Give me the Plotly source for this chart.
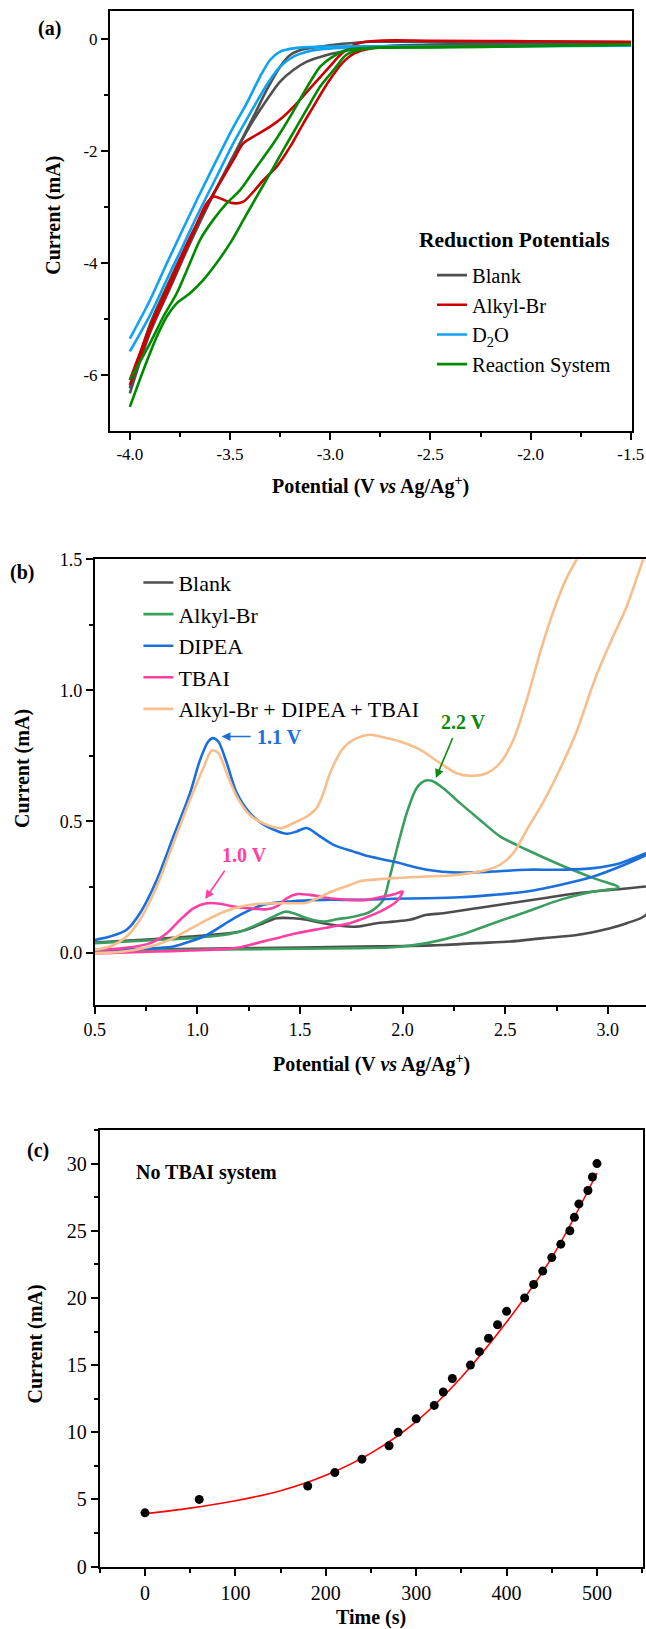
import plotly.graph_objects as go

W, H = 646, 1629
FONT = "Liberation Serif"

# ---------------- Panel (a) data: reduction CVs ----------------
a_blank_fwd_x = [-1.5, -2.0, -2.5, -2.8, -2.87, -2.95, -3.05, -3.134, -3.2, -3.25, -3.317, -3.383, -3.45, -3.517, -3.6, -3.7, -3.8, -3.9, -4.0]
a_blank_fwd_y = [-0.06, -0.05, -0.05, -0.05, -0.066, -0.09, -0.137, -0.185, -0.286, -0.494, -0.91, -1.387, -1.86, -2.34, -2.875, -3.55, -4.3, -5.1, -6.24]
a_blank_rev_x = [-4.0, -3.9, -3.8, -3.7, -3.6, -3.5, -3.4, -3.317, -3.25, -3.184, -3.117, -3.05, -2.935, -2.818, -2.7, -2.5, -2.0, -1.5]
a_blank_rev_y = [-6.33, -5.25, -4.45, -3.65, -2.9, -2.2, -1.55, -1.09, -0.76, -0.554, -0.405, -0.32, -0.22, -0.15, -0.12, -0.1, -0.08, -0.07]

a_alkyl_fwd_x = [-1.5, -2.0, -2.5, -2.755, -2.859, -2.941, -3.003, -3.085, -3.167, -3.234, -3.3, -3.367, -3.433, -3.483, -3.533, -3.6, -3.7, -3.8, -3.9, -4.0]
a_alkyl_fwd_y = [-0.05, -0.04, -0.03, -0.03, -0.077, -0.256, -0.494, -0.82, -1.149, -1.387, -1.565, -1.71, -1.86, -2.16, -2.46, -2.875, -3.55, -4.35, -5.15, -6.09]
a_alkyl_rev_x = [-4.0, -3.9, -3.8, -3.7, -3.62, -3.583, -3.55, -3.5, -3.467, -3.433, -3.383, -3.333, -3.267, -3.2, -3.134, -3.084, -3.05, -3.003, -2.941, -2.88, -2.797, -2.6, -2.0, -1.5]
a_alkyl_rev_y = [-6.18, -5.22, -4.42, -3.6, -2.95, -2.815, -2.845, -2.92, -2.935, -2.905, -2.726, -2.518, -2.28, -1.923, -1.506, -1.208, -1.0, -0.732, -0.434, -0.256, -0.167, -0.14, -0.12, -0.1]

a_d2o_fwd_x = [-1.5, -2.0, -2.5, -2.8, -3.05, -3.184, -3.25, -3.30, -3.35, -3.417, -3.483, -3.567, -3.65, -3.733, -3.816, -3.899, -4.0]
a_d2o_fwd_y = [-0.12, -0.12, -0.13, -0.13, -0.137, -0.167, -0.226, -0.375, -0.67, -1.15, -1.57, -2.16, -2.76, -3.38, -4.01, -4.66, -5.35]
a_d2o_rev_x = [-4.0, -3.899, -3.816, -3.733, -3.65, -3.567, -3.483, -3.4, -3.317, -3.25, -3.184, -3.117, -3.05, -2.95, -2.8, -2.5, -2.0, -1.5]
a_d2o_rev_y = [-5.58, -4.93, -4.30, -3.68, -3.05, -2.46, -1.86, -1.33, -0.82, -0.494, -0.315, -0.226, -0.185, -0.16, -0.15, -0.14, -0.13, -0.12]

a_rxn_fwd_x = [-1.5, -2.0, -2.5, -2.735, -2.918, -3.0, -3.05, -3.084, -3.134, -3.2, -3.283, -3.367, -3.45, -3.517, -3.584, -3.65, -3.7, -3.766, -3.833, -3.899, -4.0]
a_rxn_fwd_y = [-0.1, -0.12, -0.14, -0.15, -0.196, -0.345, -0.494, -0.673, -0.97, -1.387, -1.863, -2.28, -2.70, -2.935, -3.23, -3.59, -4.0, -4.54, -4.96, -5.43, -6.09]
a_rxn_rev_x = [-4.0, -3.932, -3.866, -3.816, -3.766, -3.7, -3.633, -3.567, -3.5, -3.433, -3.367, -3.3, -3.234, -3.167, -3.1, -3.05, -2.983, -2.921, -2.859, -2.755, -2.5, -2.0, -1.5]
a_rxn_rev_y = [-6.57, -5.91, -5.32, -4.96, -4.72, -4.54, -4.30, -4.0, -3.65, -3.23, -2.815, -2.40, -1.98, -1.565, -1.149, -0.85, -0.554, -0.286, -0.196, -0.155, -0.15, -0.13, -0.1]

a_xtick_vals = [-4.0, -3.5, -3.0, -2.5, -2.0, -1.5]
a_xtick_text = ["-4.0", "-3.5", "-3.0", "-2.5", "-2.0", "-1.5"]
a_ytick_vals = [-6, -4, -2, 0]
a_ytick_text = ["-6", "-4", "-2", "0"]

# ---------------- Panel (b) data: oxidation CVs ----------------
b_blank_fwd_x = [0.5, 0.964, 1.208, 1.321, 1.386, 1.468, 1.533, 1.614, 1.695, 1.776, 1.873, 1.955, 2.036, 2.118, 2.198, 2.36, 2.523, 2.686, 2.849, 3.011, 3.186, 3.25]
b_blank_fwd_y = [0.038, 0.061, 0.08, 0.112, 0.131, 0.131, 0.125, 0.112, 0.102, 0.099, 0.112, 0.118, 0.125, 0.144, 0.15, 0.169, 0.188, 0.207, 0.226, 0.239, 0.252, 0.26]
b_blank_rev_x = [3.25, 3.186, 3.092, 3.011, 2.849, 2.686, 2.523, 2.36, 2.198, 2.036, 1.792, 1.289, 0.5]
b_blank_rev_y = [0.16, 0.144, 0.112, 0.093, 0.067, 0.055, 0.042, 0.036, 0.029, 0.025, 0.023, 0.017, 0.01]

b_alkyl_fwd_x = [0.5, 0.802, 0.964, 1.127, 1.208, 1.289, 1.37, 1.427, 1.468, 1.533, 1.614, 1.679, 1.76, 1.825, 1.857, 1.906, 1.938, 1.971, 2.02, 2.068, 2.109, 2.141, 2.198, 2.28, 2.377, 2.475, 2.605, 2.767, 2.93, 3.052]
b_alkyl_fwd_y = [0.036, 0.048, 0.055, 0.067, 0.08, 0.106, 0.137, 0.156, 0.15, 0.131, 0.118, 0.127, 0.137, 0.15, 0.163, 0.201, 0.29, 0.392, 0.532, 0.627, 0.655, 0.655, 0.627, 0.57, 0.506, 0.443, 0.392, 0.335, 0.284, 0.249]
b_alkyl_rev_x = [3.052, 2.93, 2.767, 2.605, 2.442, 2.28, 2.118, 1.955, 1.792, 1.289, 0.5]
b_alkyl_rev_y = [0.249, 0.233, 0.201, 0.156, 0.112, 0.067, 0.036, 0.02, 0.017, 0.013, 0.008]

b_dipea_fwd_x = [0.5, 0.574, 0.655, 0.72, 0.802, 0.883, 0.964, 1.013, 1.053, 1.075, 1.102, 1.143, 1.192, 1.256, 1.338, 1.435, 1.484, 1.533, 1.598, 1.663, 1.761, 1.841, 1.955, 2.118, 2.28, 2.442, 2.605, 2.767, 2.93, 3.06, 3.186, 3.25]
b_dipea_fwd_y = [0.048, 0.061, 0.087, 0.15, 0.277, 0.443, 0.608, 0.735, 0.805, 0.818, 0.805, 0.723, 0.608, 0.532, 0.481, 0.453, 0.462, 0.475, 0.443, 0.411, 0.385, 0.366, 0.347, 0.316, 0.305, 0.309, 0.316, 0.316, 0.322, 0.341, 0.379, 0.4]
b_dipea_rev_x = [3.25, 3.186, 3.06, 2.93, 2.767, 2.605, 2.442, 2.28, 2.118, 1.955, 1.792, 1.614, 1.451, 1.321, 1.208, 1.127, 1.046, 0.964, 0.883, 0.802, 0.64, 0.5]
b_dipea_rev_y = [0.39, 0.372, 0.328, 0.29, 0.258, 0.233, 0.22, 0.211, 0.207, 0.205, 0.201, 0.201, 0.195, 0.182, 0.144, 0.106, 0.067, 0.042, 0.023, 0.017, 0.013, 0.01]

b_tbai_fwd_x = [0.5, 0.64, 0.77, 0.851, 0.916, 0.98, 1.046, 1.111, 1.175, 1.256, 1.338, 1.386, 1.435, 1.484, 1.549, 1.646, 1.744, 1.825, 1.89, 1.958, 2.0]
b_tbai_fwd_y = [0.01, 0.017, 0.036, 0.074, 0.125, 0.169, 0.188, 0.186, 0.176, 0.169, 0.165, 0.176, 0.207, 0.223, 0.22, 0.207, 0.201, 0.201, 0.211, 0.222, 0.233]
b_tbai_rev_x = [2.0, 1.971, 1.89, 1.792, 1.744, 1.614, 1.484, 1.386, 1.289, 1.208, 1.127, 0.964, 0.802, 0.5]
b_tbai_rev_y = [0.233, 0.195, 0.156, 0.125, 0.112, 0.093, 0.074, 0.055, 0.036, 0.02, 0.013, 0.008, 0.004, -0.003]

b_mix_fwd_x = [0.5, 0.574, 0.655, 0.72, 0.802, 0.883, 0.964, 1.029, 1.07, 1.102, 1.143, 1.192, 1.256, 1.338, 1.411, 1.468, 1.533, 1.581, 1.614, 1.646, 1.711, 1.776, 1.841, 1.89, 1.987, 2.085, 2.182, 2.263, 2.328, 2.41, 2.475, 2.54, 2.605, 2.669, 2.734, 2.80, 2.87, 2.93]
b_mix_fwd_y = [0.01, 0.023, 0.061, 0.125, 0.252, 0.417, 0.583, 0.704, 0.771, 0.761, 0.684, 0.595, 0.525, 0.487, 0.475, 0.494, 0.519, 0.551, 0.608, 0.684, 0.78, 0.818, 0.831, 0.824, 0.805, 0.774, 0.723, 0.684, 0.674, 0.684, 0.723, 0.812, 0.964, 1.142, 1.30, 1.43, 1.53, 1.62]
b_mix_rev_x = [3.2, 3.173, 3.092, 3.019, 2.949, 2.913, 2.849, 2.767, 2.686, 2.605, 2.54, 2.475, 2.41, 2.328, 2.247, 2.118, 1.955, 1.792, 1.744, 1.646, 1.581, 1.533, 1.451, 1.37, 1.289, 1.208, 1.127, 1.046, 0.964, 0.883, 0.802, 0.64, 0.5]
b_mix_rev_y = [1.55, 1.5, 1.32, 1.194, 1.066, 0.99, 0.845, 0.70, 0.575, 0.468, 0.38, 0.335, 0.315, 0.303, 0.295, 0.29, 0.284, 0.272, 0.258, 0.23, 0.205, 0.19, 0.188, 0.188, 0.185, 0.175, 0.155, 0.125, 0.09, 0.055, 0.03, 0.004, -0.003]

# ---------------- Panel (c) data ----------------
c_time = [0, 60, 180, 210, 240, 270, 280, 300, 320, 330, 340, 360, 370, 380, 390, 400, 420, 430, 440, 450, 460, 470, 475, 480, 490, 495, 500]
c_current = [4, 5, 6, 7, 8, 9, 10, 11, 12, 13, 14, 15, 16, 17, 18, 19, 20, 21, 22, 23, 24, 25, 26, 27, 28, 29, 30]
c_fit_time = [0, 50, 100, 150, 200, 250, 300, 350, 400, 450, 500]
c_fit_current = [3.93, 4.35, 4.9, 5.65, 6.8, 8.45, 10.8, 14.1, 18.2, 23.0, 29.3]

# ---------------- helpers ----------------
def px_x(p):
    return p / W

def px_y(p):
    return 1 - p / H

def loop(fx, fy, rx, ry, gap=False):
    if gap:
        return fx + [None] + rx, fy + [None] + ry
    return fx + rx[1:], fy + ry[1:]

fig = go.Figure()

a_series = [
    ("Blank", "#505050", a_blank_fwd_x, a_blank_fwd_y, a_blank_rev_x, a_blank_rev_y),
    ("Alkyl-Br", "#cc0000", a_alkyl_fwd_x, a_alkyl_fwd_y, a_alkyl_rev_x, a_alkyl_rev_y),
    ("D<sub>2</sub>O", "#0ea2f2", a_d2o_fwd_x, a_d2o_fwd_y, a_d2o_rev_x, a_d2o_rev_y),
    ("Reaction System", "#008a00", a_rxn_fwd_x, a_rxn_fwd_y, a_rxn_rev_x, a_rxn_rev_y),
]
for name, col, fx, fy, rx, ry in a_series:
    xs, ys = loop(fx, fy, rx, ry, gap=True)
    fig.add_trace(go.Scatter(x=xs, y=ys, mode="lines", name=name,
                             line=dict(color=col, width=2.6, shape="spline", smoothing=0.8),
                             xaxis="x", yaxis="y", legend="legend"))

b_series = [
    ("Blank", "#4d4d4d", b_blank_fwd_x, b_blank_fwd_y, b_blank_rev_x, b_blank_rev_y, False),
    ("Alkyl-Br", "#3a9e5e", b_alkyl_fwd_x, b_alkyl_fwd_y, b_alkyl_rev_x, b_alkyl_rev_y, False),
    ("DIPEA", "#1b6fdc", b_dipea_fwd_x, b_dipea_fwd_y, b_dipea_rev_x, b_dipea_rev_y, False),
    ("TBAI", "#ff3fa2", b_tbai_fwd_x, b_tbai_fwd_y, b_tbai_rev_x, b_tbai_rev_y, False),
    ("Alkyl-Br + DIPEA + TBAI", "#f7be8b", b_mix_fwd_x, b_mix_fwd_y, b_mix_rev_x, b_mix_rev_y, True),
]
for name, col, fx, fy, rx, ry, gap in b_series:
    xs, ys = loop(fx, fy, rx, ry, gap=gap)
    fig.add_trace(go.Scatter(x=xs, y=ys, mode="lines", name=name,
                             line=dict(color=col, width=2.6, shape="spline", smoothing=0.8),
                             xaxis="x2", yaxis="y2", legend="legend2"))

fig.add_trace(go.Scatter(x=c_fit_time, y=c_fit_current, mode="lines", showlegend=False,
                         line=dict(color="#ff0000", width=1.6, shape="spline"),
                         xaxis="x3", yaxis="y3"))
fig.add_trace(go.Scatter(x=c_time, y=c_current, mode="markers", showlegend=False,
                         marker=dict(color="black", size=9),
                         xaxis="x3", yaxis="y3"))

def axis(domain, rng, dtick, minor_dtick, tick0, size, anchor, mirror=True, fmt=None,
         tickvals=None, ticktext=None):
    d = dict(domain=domain, range=rng, anchor=anchor, showgrid=False, zeroline=False,
             showline=True, linecolor="black", linewidth=2, mirror=mirror,
             ticks="outside", ticklen=7, tickwidth=1.6, tickcolor="black",
             tickfont=dict(family=FONT, size=size, color="black"),
             minor=dict(ticks="outside", ticklen=4, tickwidth=1.6, tickcolor="black",
                        dtick=minor_dtick, tick0=tick0, showgrid=False))
    if tickvals is not None:
        d["tickmode"] = "array"
        d["tickvals"] = tickvals
        d["ticktext"] = ticktext
    else:
        d["tick0"] = tick0
        d["dtick"] = dtick
    if fmt:
        d["tickformat"] = fmt
    return d

fig.update_layout(
    width=W, height=H, margin=dict(l=0, r=0, t=0, b=0, autoexpand=False),
    paper_bgcolor="white", plot_bgcolor="white",
    font=dict(family=FONT, color="black"),
    xaxis=axis([px_x(110), px_x(631.6)], [-4.099, -1.496], 0.5, 0.25, -4.0, 17, "y",
               tickvals=a_xtick_vals, ticktext=a_xtick_text),
    yaxis=axis([px_y(430.7), px_y(11)], [-6.995, 0.5], 2, 1, 0, 17, "x",
               tickvals=a_ytick_vals, ticktext=a_ytick_text),
    xaxis2=axis([px_x(94.8), 1.0], [0.5, 3.186], 0.5, 0.25, 0.5, 18, "y2", fmt=".1f"),
    yaxis2=axis([px_y(1005), px_y(559.3)], [-0.2, 1.5], 0.5, 0.25, 0, 18, "x2", mirror=False, fmt=".1f"),
    xaxis3=axis([px_x(99.7), px_x(642.8)], [-50.1, 550.7], 100, 50, 0, 20, "y3"),
    yaxis3=axis([px_y(1566.6), px_y(1130)], [0, 32.5], 5, 2.5, 0, 20, "x3"),
    legend=dict(x=px_x(432), y=px_y(255.3), xanchor="left", yanchor="top",
                bgcolor="rgba(0,0,0,0)", font=dict(family=FONT, size=20.5), tracegroupgap=0),
    legend2=dict(x=px_x(138.4), y=px_y(561.7), xanchor="left", yanchor="top",
                 bgcolor="rgba(0,0,0,0)", font=dict(family=FONT, size=22), tracegroupgap=0),
    showlegend=True,
)

ann = []
def txt(text, x, y, size=20, color="black", angle=0, xanchor="center", xref="paper", yref="paper", yanchor="middle"):
    ann.append(dict(text=text, x=x, y=y, xref=xref, yref=yref, showarrow=False,
                    textangle=angle, xanchor=xanchor, yanchor=yanchor,
                    font=dict(family=FONT, size=size, color=color)))

txt("<b>(a)</b>", px_x(49.4), px_y(28.3))
txt("<b>(b)</b>", px_x(21.6), px_y(572.7))
txt("<b>(c)</b>", px_x(38), px_y(1150))
pot = "<b>Potential (V <i>vs</i> Ag/Ag<sup>+</sup>)</b>"
txt("<b>Current (mA)</b>", px_x(52.7), px_y(215), angle=-90)
txt(pot, px_x(370.8), px_y(485))
txt("<b>Current (mA)</b>", px_x(22.7), px_y(768.3), angle=-90)
txt(pot, px_x(371.7), px_y(1063.3))
txt("<b>Current (mA)</b>", px_x(35), px_y(1344.5), angle=-90)
txt("<b>Time (s)</b>", px_x(370.8), px_y(1617.2))
txt("<b>Reduction Potentials</b>", px_x(417.4), px_y(240), size=21.5, xanchor="left")
txt("<b>1.1 V</b>", 1.283, 0.824, color="#1b6fdc", xanchor="left", xref="x2", yref="y2")
txt("<b>2.2 V</b>", 2.297, 0.878, color="#0a8a0a", xref="x2", yref="y2")
txt("<b>1.0 V</b>", 1.229, 0.373, color="#ff3fa2", xref="x2", yref="y2")
txt("<b>No TBAI system</b>", -12.3, 29.36, xanchor="left", xref="x3", yref="y3")

def arrow(x, y, ax, ay, color):
    ann.append(dict(text="", x=x, y=y, ax=ax, ay=ay, xref="x2", yref="y2", axref="x2", ayref="y2",
                    showarrow=True, arrowhead=2, arrowsize=1.1, arrowwidth=1.6, arrowcolor=color,
                    standoff=0, startstandoff=0))

arrow(1.118, 0.824, 1.267, 0.824, "#1b6fdc")
arrow(2.162, 0.666, 2.247, 0.824, "#0a8a0a")
arrow(1.038, 0.204, 1.138, 0.318, "#ff3fa2")

fig.update_layout(annotations=ann)
fig.write_html("out.html", config={"displayModeBar": False},
               post_script="document.body.style.margin='0px';document.body.style.overflow='hidden';")
